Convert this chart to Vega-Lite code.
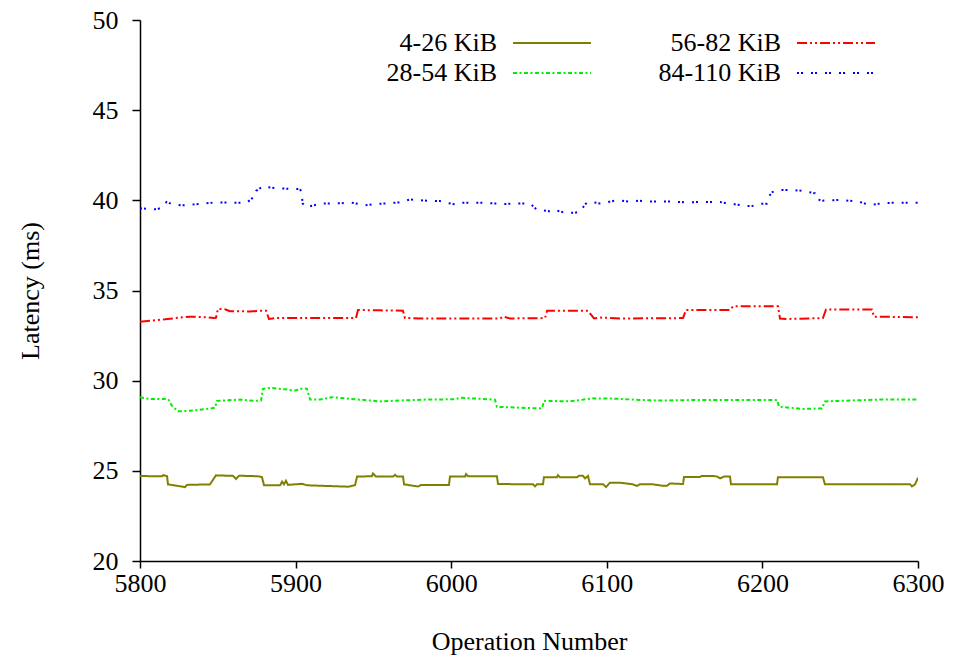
{
  "$schema": "https://vega.github.io/schema/vega-lite/v6.json",
  "width": 778,
  "height": 541,
  "autosize": {"type": "none"},
  "padding": {"left": 140, "top": 20, "right": 36, "bottom": 95},
  "background": "white",
  "config": {
    "view": {"stroke": null},
    "font": "Liberation Serif",
    "style": {
      "guide-label": {"font": "Liberation Serif"},
      "guide-title": {"font": "Liberation Serif"}
    },
    "axis": {
      "grid": false,
      "domainColor": "black",
      "domainWidth": 1.5,
      "tickColor": "black",
      "tickWidth": 1.5,
      "labelFont": "Liberation Serif",
      "labelFontSize": 26,
      "labelColor": "black",
      "titleFont": "Liberation Serif",
      "titleFontSize": 26,
      "titleFontWeight": "normal",
      "titleColor": "black"
    },
    "legend": {
      "labelFont": "Liberation Serif"
    }
  },
  "data": {
    "values": [
      {"s": "4-26 KiB", "x": 5800, "y": 24.71},
      {"s": "4-26 KiB", "x": 5814.1, "y": 24.7},
      {"s": "4-26 KiB", "x": 5815, "y": 24.76},
      {"s": "4-26 KiB", "x": 5817.4, "y": 24.7},
      {"s": "4-26 KiB", "x": 5818, "y": 24.25},
      {"s": "4-26 KiB", "x": 5828.9, "y": 24.1},
      {"s": "4-26 KiB", "x": 5830.2, "y": 24.22},
      {"s": "4-26 KiB", "x": 5845, "y": 24.25},
      {"s": "4-26 KiB", "x": 5848.8, "y": 24.75},
      {"s": "4-26 KiB", "x": 5859.8, "y": 24.72},
      {"s": "4-26 KiB", "x": 5861.7, "y": 24.55},
      {"s": "4-26 KiB", "x": 5863.6, "y": 24.73},
      {"s": "4-26 KiB", "x": 5875.8, "y": 24.7},
      {"s": "4-26 KiB", "x": 5878.4, "y": 24.65},
      {"s": "4-26 KiB", "x": 5879.7, "y": 24.2},
      {"s": "4-26 KiB", "x": 5890, "y": 24.2},
      {"s": "4-26 KiB", "x": 5891.3, "y": 24.4},
      {"s": "4-26 KiB", "x": 5892.5, "y": 24.25},
      {"s": "4-26 KiB", "x": 5893.8, "y": 24.45},
      {"s": "4-26 KiB", "x": 5895.1, "y": 24.22},
      {"s": "4-26 KiB", "x": 5904, "y": 24.28},
      {"s": "4-26 KiB", "x": 5907.3, "y": 24.2},
      {"s": "4-26 KiB", "x": 5933.7, "y": 24.12},
      {"s": "4-26 KiB", "x": 5938.2, "y": 24.2},
      {"s": "4-26 KiB", "x": 5939.5, "y": 24.68},
      {"s": "4-26 KiB", "x": 5949, "y": 24.7},
      {"s": "4-26 KiB", "x": 5949.7, "y": 24.85},
      {"s": "4-26 KiB", "x": 5951.7, "y": 24.68},
      {"s": "4-26 KiB", "x": 5962.6, "y": 24.68},
      {"s": "4-26 KiB", "x": 5963.9, "y": 24.78},
      {"s": "4-26 KiB", "x": 5965.2, "y": 24.68},
      {"s": "4-26 KiB", "x": 5969, "y": 24.68},
      {"s": "4-26 KiB", "x": 5969.7, "y": 24.25},
      {"s": "4-26 KiB", "x": 5978.7, "y": 24.13},
      {"s": "4-26 KiB", "x": 5980.6, "y": 24.22},
      {"s": "4-26 KiB", "x": 5998.6, "y": 24.22},
      {"s": "4-26 KiB", "x": 5999.2, "y": 24.68},
      {"s": "4-26 KiB", "x": 6008.9, "y": 24.68},
      {"s": "4-26 KiB", "x": 6009.5, "y": 24.82},
      {"s": "4-26 KiB", "x": 6010.8, "y": 24.7},
      {"s": "4-26 KiB", "x": 6029.4, "y": 24.7},
      {"s": "4-26 KiB", "x": 6030.1, "y": 24.27},
      {"s": "4-26 KiB", "x": 6052.6, "y": 24.25},
      {"s": "4-26 KiB", "x": 6053.9, "y": 24.14},
      {"s": "4-26 KiB", "x": 6055.1, "y": 24.25},
      {"s": "4-26 KiB", "x": 6059, "y": 24.25},
      {"s": "4-26 KiB", "x": 6059.6, "y": 24.65},
      {"s": "4-26 KiB", "x": 6068, "y": 24.65},
      {"s": "4-26 KiB", "x": 6068.6, "y": 24.76},
      {"s": "4-26 KiB", "x": 6069.9, "y": 24.64},
      {"s": "4-26 KiB", "x": 6080.8, "y": 24.64},
      {"s": "4-26 KiB", "x": 6082.1, "y": 24.73},
      {"s": "4-26 KiB", "x": 6084.7, "y": 24.73},
      {"s": "4-26 KiB", "x": 6086, "y": 24.58},
      {"s": "4-26 KiB", "x": 6087.9, "y": 24.72},
      {"s": "4-26 KiB", "x": 6089.2, "y": 24.25},
      {"s": "4-26 KiB", "x": 6097.6, "y": 24.26},
      {"s": "4-26 KiB", "x": 6099.5, "y": 24.1},
      {"s": "4-26 KiB", "x": 6102, "y": 24.34},
      {"s": "4-26 KiB", "x": 6108.5, "y": 24.34},
      {"s": "4-26 KiB", "x": 6116.8, "y": 24.25},
      {"s": "4-26 KiB", "x": 6119.4, "y": 24.16},
      {"s": "4-26 KiB", "x": 6121.3, "y": 24.25},
      {"s": "4-26 KiB", "x": 6129.7, "y": 24.25},
      {"s": "4-26 KiB", "x": 6136.1, "y": 24.17},
      {"s": "4-26 KiB", "x": 6138.7, "y": 24.17},
      {"s": "4-26 KiB", "x": 6140.6, "y": 24.3},
      {"s": "4-26 KiB", "x": 6149, "y": 24.27},
      {"s": "4-26 KiB", "x": 6149.6, "y": 24.66},
      {"s": "4-26 KiB", "x": 6159.9, "y": 24.66},
      {"s": "4-26 KiB", "x": 6161.2, "y": 24.72},
      {"s": "4-26 KiB", "x": 6168.3, "y": 24.72},
      {"s": "4-26 KiB", "x": 6170.9, "y": 24.68},
      {"s": "4-26 KiB", "x": 6172.8, "y": 24.58},
      {"s": "4-26 KiB", "x": 6175.3, "y": 24.68},
      {"s": "4-26 KiB", "x": 6179.2, "y": 24.68},
      {"s": "4-26 KiB", "x": 6179.8, "y": 24.25},
      {"s": "4-26 KiB", "x": 6209.4, "y": 24.25},
      {"s": "4-26 KiB", "x": 6210, "y": 24.65},
      {"s": "4-26 KiB", "x": 6238.9, "y": 24.65},
      {"s": "4-26 KiB", "x": 6240.2, "y": 24.25},
      {"s": "4-26 KiB", "x": 6294.9, "y": 24.25},
      {"s": "4-26 KiB", "x": 6296.1, "y": 24.14},
      {"s": "4-26 KiB", "x": 6298.1, "y": 24.25},
      {"s": "4-26 KiB", "x": 6300, "y": 24.62},

      {"s": "28-54 KiB", "x": 5800, "y": 29.08},
      {"s": "28-54 KiB", "x": 5806.4, "y": 28.98},
      {"s": "28-54 KiB", "x": 5818, "y": 28.98},
      {"s": "28-54 KiB", "x": 5820.6, "y": 28.6},
      {"s": "28-54 KiB", "x": 5824.4, "y": 28.3},
      {"s": "28-54 KiB", "x": 5832.1, "y": 28.33},
      {"s": "28-54 KiB", "x": 5845, "y": 28.45},
      {"s": "28-54 KiB", "x": 5848.2, "y": 28.5},
      {"s": "28-54 KiB", "x": 5849.5, "y": 28.88},
      {"s": "28-54 KiB", "x": 5864.3, "y": 28.95},
      {"s": "28-54 KiB", "x": 5873.9, "y": 28.88},
      {"s": "28-54 KiB", "x": 5877.8, "y": 28.9},
      {"s": "28-54 KiB", "x": 5879, "y": 29.55},
      {"s": "28-54 KiB", "x": 5883.5, "y": 29.6},
      {"s": "28-54 KiB", "x": 5893.2, "y": 29.52},
      {"s": "28-54 KiB", "x": 5899.6, "y": 29.45},
      {"s": "28-54 KiB", "x": 5904.8, "y": 29.58},
      {"s": "28-54 KiB", "x": 5907.3, "y": 29.55},
      {"s": "28-54 KiB", "x": 5909.3, "y": 28.95},
      {"s": "28-54 KiB", "x": 5915.7, "y": 28.95},
      {"s": "28-54 KiB", "x": 5923.4, "y": 29.08},
      {"s": "28-54 KiB", "x": 5931.7, "y": 29.02},
      {"s": "28-54 KiB", "x": 5954.2, "y": 28.85},
      {"s": "28-54 KiB", "x": 5967.1, "y": 28.9},
      {"s": "28-54 KiB", "x": 5983.2, "y": 28.95},
      {"s": "28-54 KiB", "x": 6002.4, "y": 28.97},
      {"s": "28-54 KiB", "x": 6005.7, "y": 29.05},
      {"s": "28-54 KiB", "x": 6028.1, "y": 28.95},
      {"s": "28-54 KiB", "x": 6029.4, "y": 28.55},
      {"s": "28-54 KiB", "x": 6044.2, "y": 28.5},
      {"s": "28-54 KiB", "x": 6058.4, "y": 28.46},
      {"s": "28-54 KiB", "x": 6059.6, "y": 28.88},
      {"s": "28-54 KiB", "x": 6076.3, "y": 28.85},
      {"s": "28-54 KiB", "x": 6091.1, "y": 29.02},
      {"s": "28-54 KiB", "x": 6106.6, "y": 29.0},
      {"s": "28-54 KiB", "x": 6121.3, "y": 28.93},
      {"s": "28-54 KiB", "x": 6134.2, "y": 28.9},
      {"s": "28-54 KiB", "x": 6159.9, "y": 28.93},
      {"s": "28-54 KiB", "x": 6198.5, "y": 28.93},
      {"s": "28-54 KiB", "x": 6209.4, "y": 28.93},
      {"s": "28-54 KiB", "x": 6210.7, "y": 28.55},
      {"s": "28-54 KiB", "x": 6217.7, "y": 28.5},
      {"s": "28-54 KiB", "x": 6226.1, "y": 28.43},
      {"s": "28-54 KiB", "x": 6238.3, "y": 28.46},
      {"s": "28-54 KiB", "x": 6240.2, "y": 28.85},
      {"s": "28-54 KiB", "x": 6256.3, "y": 28.9},
      {"s": "28-54 KiB", "x": 6275.6, "y": 28.95},
      {"s": "28-54 KiB", "x": 6300, "y": 28.95},

      {"s": "56-82 KiB", "x": 5800, "y": 33.27},
      {"s": "56-82 KiB", "x": 5816.1, "y": 33.4},
      {"s": "56-82 KiB", "x": 5825.7, "y": 33.5},
      {"s": "56-82 KiB", "x": 5832.1, "y": 33.55},
      {"s": "56-82 KiB", "x": 5841.8, "y": 33.52},
      {"s": "56-82 KiB", "x": 5847.6, "y": 33.47},
      {"s": "56-82 KiB", "x": 5848.8, "y": 33.48},
      {"s": "56-82 KiB", "x": 5850.1, "y": 33.98},
      {"s": "56-82 KiB", "x": 5854.6, "y": 33.96},
      {"s": "56-82 KiB", "x": 5857.8, "y": 33.85},
      {"s": "56-82 KiB", "x": 5870.7, "y": 33.84},
      {"s": "56-82 KiB", "x": 5879, "y": 33.88},
      {"s": "56-82 KiB", "x": 5881, "y": 33.88},
      {"s": "56-82 KiB", "x": 5882.9, "y": 33.42},
      {"s": "56-82 KiB", "x": 5886.8, "y": 33.47},
      {"s": "56-82 KiB", "x": 5938.8, "y": 33.47},
      {"s": "56-82 KiB", "x": 5940.1, "y": 33.92},
      {"s": "56-82 KiB", "x": 5954.2, "y": 33.9},
      {"s": "56-82 KiB", "x": 5969, "y": 33.88},
      {"s": "56-82 KiB", "x": 5970.3, "y": 33.48},
      {"s": "56-82 KiB", "x": 5980, "y": 33.45},
      {"s": "56-82 KiB", "x": 6031.4, "y": 33.45},
      {"s": "56-82 KiB", "x": 6033.3, "y": 33.55},
      {"s": "56-82 KiB", "x": 6037.8, "y": 33.45},
      {"s": "56-82 KiB", "x": 6060.3, "y": 33.47},
      {"s": "56-82 KiB", "x": 6061.6, "y": 33.88},
      {"s": "56-82 KiB", "x": 6087.9, "y": 33.88},
      {"s": "56-82 KiB", "x": 6091.8, "y": 33.45},
      {"s": "56-82 KiB", "x": 6095.6, "y": 33.5},
      {"s": "56-82 KiB", "x": 6108.5, "y": 33.45},
      {"s": "56-82 KiB", "x": 6149, "y": 33.47},
      {"s": "56-82 KiB", "x": 6150.9, "y": 33.92},
      {"s": "56-82 KiB", "x": 6179.2, "y": 33.92},
      {"s": "56-82 KiB", "x": 6181.1, "y": 34.12},
      {"s": "56-82 KiB", "x": 6210, "y": 34.12},
      {"s": "56-82 KiB", "x": 6211.3, "y": 33.45},
      {"s": "56-82 KiB", "x": 6215.2, "y": 33.42},
      {"s": "56-82 KiB", "x": 6238.9, "y": 33.47},
      {"s": "56-82 KiB", "x": 6240.9, "y": 33.95},
      {"s": "56-82 KiB", "x": 6270.4, "y": 33.95},
      {"s": "56-82 KiB", "x": 6271.7, "y": 33.55},
      {"s": "56-82 KiB", "x": 6300, "y": 33.52},

      {"s": "84-110 KiB", "x": 5800, "y": 39.56},
      {"s": "84-110 KiB", "x": 5810.7, "y": 39.5},
      {"s": "84-110 KiB", "x": 5813.9, "y": 39.59},
      {"s": "84-110 KiB", "x": 5817.1, "y": 39.91},
      {"s": "84-110 KiB", "x": 5820.4, "y": 39.8},
      {"s": "84-110 KiB", "x": 5826.8, "y": 39.72},
      {"s": "84-110 KiB", "x": 5838.6, "y": 39.8},
      {"s": "84-110 KiB", "x": 5848.8, "y": 39.89},
      {"s": "84-110 KiB", "x": 5857.8, "y": 39.87},
      {"s": "84-110 KiB", "x": 5868.6, "y": 39.87},
      {"s": "84-110 KiB", "x": 5873.9, "y": 40.24},
      {"s": "84-110 KiB", "x": 5874.6, "y": 40.52},
      {"s": "84-110 KiB", "x": 5879.2, "y": 40.79},
      {"s": "84-110 KiB", "x": 5882.5, "y": 40.72},
      {"s": "84-110 KiB", "x": 5890, "y": 40.66},
      {"s": "84-110 KiB", "x": 5899.6, "y": 40.63},
      {"s": "84-110 KiB", "x": 5902.8, "y": 40.63},
      {"s": "84-110 KiB", "x": 5903.9, "y": 40.42},
      {"s": "84-110 KiB", "x": 5904.5, "y": 39.83},
      {"s": "84-110 KiB", "x": 5906.7, "y": 39.61},
      {"s": "84-110 KiB", "x": 5912.5, "y": 39.74},
      {"s": "84-110 KiB", "x": 5916.8, "y": 39.83},
      {"s": "84-110 KiB", "x": 5926.4, "y": 39.83},
      {"s": "84-110 KiB", "x": 5936.1, "y": 39.87},
      {"s": "84-110 KiB", "x": 5944.6, "y": 39.73},
      {"s": "84-110 KiB", "x": 5954.2, "y": 39.81},
      {"s": "84-110 KiB", "x": 5966, "y": 39.88},
      {"s": "84-110 KiB", "x": 5973.5, "y": 40.05},
      {"s": "84-110 KiB", "x": 5984.2, "y": 39.98},
      {"s": "84-110 KiB", "x": 5992.8, "y": 39.96},
      {"s": "84-110 KiB", "x": 5996, "y": 39.87},
      {"s": "84-110 KiB", "x": 6002.4, "y": 39.78},
      {"s": "84-110 KiB", "x": 6005.7, "y": 39.87},
      {"s": "84-110 KiB", "x": 6018.5, "y": 39.87},
      {"s": "84-110 KiB", "x": 6027.1, "y": 39.83},
      {"s": "84-110 KiB", "x": 6034.6, "y": 39.8},
      {"s": "84-110 KiB", "x": 6048.5, "y": 39.83},
      {"s": "84-110 KiB", "x": 6050.6, "y": 39.83},
      {"s": "84-110 KiB", "x": 6054.9, "y": 39.5},
      {"s": "84-110 KiB", "x": 6058.2, "y": 39.46},
      {"s": "84-110 KiB", "x": 6064.6, "y": 39.37},
      {"s": "84-110 KiB", "x": 6066.7, "y": 39.46},
      {"s": "84-110 KiB", "x": 6073.1, "y": 39.31},
      {"s": "84-110 KiB", "x": 6079.6, "y": 39.31},
      {"s": "84-110 KiB", "x": 6082.8, "y": 39.37},
      {"s": "84-110 KiB", "x": 6084.5, "y": 39.59},
      {"s": "84-110 KiB", "x": 6087.1, "y": 39.87},
      {"s": "84-110 KiB", "x": 6091.3, "y": 39.89},
      {"s": "84-110 KiB", "x": 6095.6, "y": 39.83},
      {"s": "84-110 KiB", "x": 6105.3, "y": 39.98},
      {"s": "84-110 KiB", "x": 6109.6, "y": 39.98},
      {"s": "84-110 KiB", "x": 6113.8, "y": 39.93},
      {"s": "84-110 KiB", "x": 6120.2, "y": 39.98},
      {"s": "84-110 KiB", "x": 6129.9, "y": 39.93},
      {"s": "84-110 KiB", "x": 6140.6, "y": 39.93},
      {"s": "84-110 KiB", "x": 6151.3, "y": 39.89},
      {"s": "84-110 KiB", "x": 6162, "y": 39.91},
      {"s": "84-110 KiB", "x": 6172.8, "y": 39.91},
      {"s": "84-110 KiB", "x": 6179.2, "y": 39.78},
      {"s": "84-110 KiB", "x": 6182.4, "y": 39.78},
      {"s": "84-110 KiB", "x": 6189.9, "y": 39.68},
      {"s": "84-110 KiB", "x": 6193.1, "y": 39.68},
      {"s": "84-110 KiB", "x": 6199.6, "y": 39.81},
      {"s": "84-110 KiB", "x": 6202.8, "y": 39.81},
      {"s": "84-110 KiB", "x": 6204.4, "y": 40.24},
      {"s": "84-110 KiB", "x": 6206.4, "y": 40.46},
      {"s": "84-110 KiB", "x": 6212.4, "y": 40.57},
      {"s": "84-110 KiB", "x": 6218.8, "y": 40.57},
      {"s": "84-110 KiB", "x": 6225.3, "y": 40.53},
      {"s": "84-110 KiB", "x": 6228.5, "y": 40.48},
      {"s": "84-110 KiB", "x": 6233.8, "y": 40.39},
      {"s": "84-110 KiB", "x": 6234.4, "y": 40.09},
      {"s": "84-110 KiB", "x": 6238.1, "y": 39.98},
      {"s": "84-110 KiB", "x": 6248.8, "y": 40.02},
      {"s": "84-110 KiB", "x": 6258.4, "y": 39.96},
      {"s": "84-110 KiB", "x": 6261.6, "y": 39.94},
      {"s": "84-110 KiB", "x": 6268.1, "y": 39.76},
      {"s": "84-110 KiB", "x": 6271.3, "y": 39.76},
      {"s": "84-110 KiB", "x": 6277.7, "y": 39.85},
      {"s": "84-110 KiB", "x": 6288.4, "y": 39.87},
      {"s": "84-110 KiB", "x": 6300, "y": 39.87}
    ]
  },
  "mark": {"type": "line", "strokeWidth": 2, "clip": true},
  "encoding": {
    "x": {
      "field": "x",
      "type": "quantitative",
      "scale": {"domain": [5800, 6300], "nice": false, "zero": false},
      "axis": {
        "title": "Operation Number",
        "values": [5800, 5900, 6000, 6100, 6200, 6300],
        "format": "d",
        "labelFont": "Liberation Serif",
        "tickSize": 7,
        "labelPadding": 2,
        "titlePadding": 32,
        "labelFlush": false
      }
    },
    "y": {
      "field": "y",
      "type": "quantitative",
      "scale": {"domain": [20, 50], "nice": false, "zero": false},
      "axis": {
        "title": "Latency (ms)",
        "values": [20, 25, 30, 35, 40, 45, 50],
        "format": "d",
        "labelFont": "Liberation Serif",
        "tickSize": 8,
        "labelPadding": 14,
        "titlePadding": 49,
        "labelFlush": false
      }
    },
    "color": {
      "field": "s",
      "type": "nominal",
      "scale": {
        "domain": ["4-26 KiB", "28-54 KiB", "56-82 KiB", "84-110 KiB"],
        "range": ["#808000", "#00ee00", "#ff0000", "#0000ff"]
      },
      "legend": {
        "title": null,
        "orient": "none",
        "legendX": 399,
        "legendY": 10,
        "columns": 2,
        "symbolType": "M-4,0H4",
        "symbolSize": 380,
        "symbolStrokeWidth": 2,
        "labelAlign": "right",
        "labelOffset": -68,
        "labelFontSize": 26,
        "labelColor": "black",
        "labelLimit": 300,
        "rowPadding": 4,
        "columnPadding": 63
      }
    },
    "strokeDash": {
      "field": "s",
      "type": "nominal",
      "scale": {
        "domain": ["4-26 KiB", "28-54 KiB", "56-82 KiB", "84-110 KiB"],
        "range": [[1, 0], [4, 2.5, 2, 2.5], [10, 3, 2, 3, 2, 3], [2, 2, 2, 8]]
      },
      "legend": null
    }
  }
}
